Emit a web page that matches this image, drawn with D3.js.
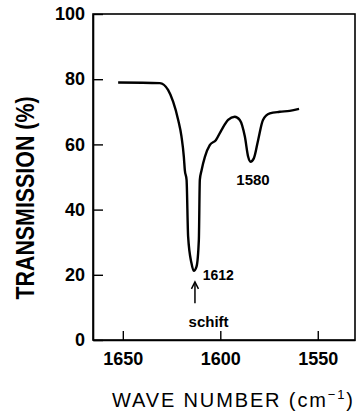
<!DOCTYPE html>
<html lang="en">
	<head>
		<meta charset="utf-8">
		<title>IR transmission spectrum</title>
		<script src="https://d3js.org/d3.v7.min.js"></script>
		<style type="text/css">
			body { margin: 0; background: #fff; }
			text { font-family: "Liberation Sans", Arial, sans-serif; fill: #000; }
		</style>
	</head>
	<body>
		<script type="text/javascript">

		  // spectrum trace: wave number (cm-1) and transmission (%)
		  var waveNumber = [1652.4, 1631.0, 1626.8, 1624.2, 1621.6, 1619.9, 1618.7, 1618.2, 1617.3, 1616.5,
		                    1614.8, 1613.6, 1612.2, 1611.0, 1610.5, 1609.6, 1607.9, 1605.4, 1602.3, 1599.4,
		                    1596.0, 1592.6, 1590.0, 1587.4, 1585.7, 1584.5, 1582.8, 1580.6, 1578.1, 1574.6,
		                    1569.5, 1564.4, 1559.6];
		  var transmission = [79.0, 78.8, 76.7, 73.1, 67.5, 62.4, 56.2, 52.1, 49.1, 31.7,
		                      23.6, 21.2, 22.5, 30.7, 49.1, 52.1, 56.2, 59.8, 61.3, 64.4,
		                      67.5, 68.5, 67.5, 62.4, 56.2, 54.7, 55.7, 61.3, 67.5, 69.5,
		                      70.0, 70.3, 70.9];

		  var xTicks = [1650, 1600, 1550];
		  var yTicks = [0, 20, 40, 60, 80, 100];

		  // peak labels
		  var peakLabels = ["1612", "1580", "schift"];
		  var peakX = [1609, 1583.2, 1606];
		  var peakY = [18.4, 47.5, 4];

		  var dataset = waveNumber.map(function(w, i) { return [w, transmission[i]]; });

		  //Width and height
		  var margin = {top: 14, right: 6, bottom: 71, left: 93};
		  var width = 361 - margin.left - margin.right;
		  var height = 411 - margin.top - margin.bottom;

		  var svg0 = d3.select("body")
		              .append("svg")
		              .attr("width", 361)
		              .attr("height", 411);
		  var svg = svg0.append("g")
		              .attr("transform", "translate(" + margin.left + "," + margin.top + ")");

		  //scales (wave number runs right to left)
		  var xScale = d3.scaleLinear()
		                 .domain([1665.3, 1530.9])
		                 .range([0, width]);
		  var yScale = d3.scaleLinear()
		                 .domain([0, 100])
		                 .range([height, 0]);

		  //frame
		  svg.append("rect")
		     .attr("x", 0).attr("y", 0)
		     .attr("width", width).attr("height", height)
		     .attr("fill", "none")
		     .attr("stroke", "#000")
		     .attr("stroke-width", 1.6);

		  //axes, ticks pointing inward
		  var xAxis = d3.axisBottom(xScale).tickValues(xTicks).tickFormat(d3.format("d"))
		                .tickSizeInner(-9).tickSizeOuter(0).tickPadding(12);
		  var xg = svg.append("g").attr("transform", "translate(0," + height + ")").call(xAxis);

		  var yAxis = d3.axisLeft(yScale).tickValues(yTicks).tickFormat(d3.format("d"))
		                .tickSizeInner(-10).tickSizeOuter(0).tickPadding(8);
		  var yg = svg.append("g").call(yAxis);

		  [xg, yg].forEach(function(g) {
		    g.select(".domain").attr("stroke-width", 1.6);
		    g.selectAll(".tick line").attr("stroke-width", 1.4);
		    g.selectAll(".tick text")
		     .attr("font-family", "Liberation Sans, Arial, sans-serif")
		     .attr("font-weight", "bold")
		     .attr("font-size", "18px")
		     .attr("fill", "#000");
		  });

		  //spectrum line
		  var line = d3.line()
		               .x(function(d) { return xScale(d[0]); })
		               .y(function(d) { return yScale(d[1]); })
		               .curve(d3.curveMonotoneX);

		  svg.append("path")
		     .datum(dataset)
		     .attr("d", line)
		     .attr("fill", "none")
		     .attr("stroke", "#000")
		     .attr("stroke-width", 2.4)
		     .attr("stroke-linejoin", "round");

		  //labels
		  svg.selectAll("text.peak")
		     .data(peakLabels)
		     .enter()
		     .append("text")
		     .attr("class", "peak")
		     .text(function(d) { return d; })
		     .attr("x", function(d, i) { return xScale(peakX[i]); })
		     .attr("y", function(d, i) { return yScale(peakY[i]); })
		     .attr("text-anchor", function(d, i) { return i === 0 ? "start" : "middle"; })
		     .attr("font-weight", "bold")
		     .attr("font-size", function(d, i) { return i === 0 ? "14px" : "15px"; });

		  //arrow pointing at the 1612 band
		  var ax = xScale(1613);
		  svg.append("line")
		     .attr("x1", ax).attr("x2", ax)
		     .attr("y1", yScale(11.3)).attr("y2", yScale(17.3))
		     .attr("stroke", "#000").attr("stroke-width", 1.5);
		  svg.append("path")
		     .attr("d", "M" + (ax - 3.5) + "," + (yScale(17.5) + 6) + "L" + ax + "," + yScale(17.8) + "L" + (ax + 3.5) + "," + (yScale(17.5) + 6))
		     .attr("fill", "none").attr("stroke", "#000").attr("stroke-width", 1.5);

		  //axis titles
		  svg0.append("text")
		      .attr("transform", "translate(34,198) rotate(-90)")
		      .attr("text-anchor", "middle")
		      .attr("font-size", "25px")
		      .attr("font-weight", "bold")
		      .attr("textLength", 203)
		      .attr("lengthAdjust", "spacingAndGlyphs")
		      .text("TRANSMISSION (%)");

		  var xt = svg0.append("text")
		      .attr("x", 112)
		      .attr("y", 407)
		      .attr("font-size", "20px")
		      .attr("textLength", 241)
		      .attr("lengthAdjust", "spacing")
		      .text("WAVE NUMBER (cm");
		  xt.append("tspan").attr("dy", -8).attr("font-size", "13px").text("\u22121");
		  xt.append("tspan").attr("dy", 8).text(")");

		</script>
	</body>
</html>
